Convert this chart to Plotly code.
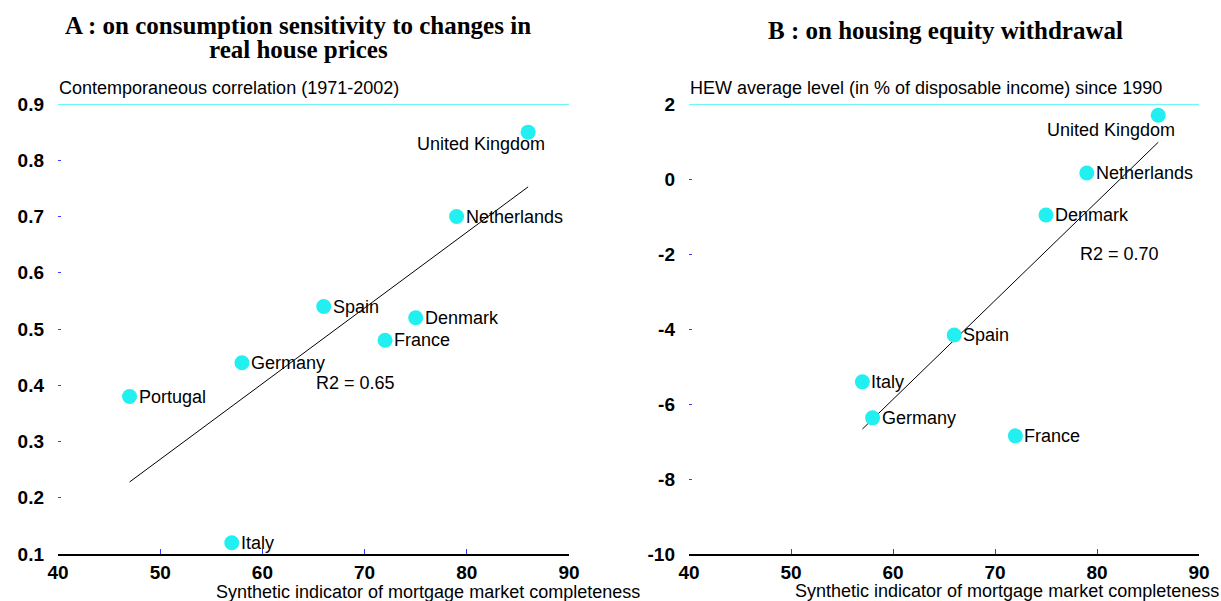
import numpy as np
import plotly.graph_objects as go

# Panel A data
countries_a = ["United Kingdom", "Netherlands", "Spain", "Denmark", "France", "Germany", "Portugal", "Italy"]
x_a = [86, 79, 66, 75, 72, 58, 47, 57]
y_a = [0.85, 0.70, 0.54, 0.52, 0.48, 0.44, 0.38, 0.12]

# Panel B data
countries_b = ["United Kingdom", "Netherlands", "Denmark", "Spain", "Italy", "Germany", "France"]
x_b = [86, 79, 75, 66, 57, 58, 72]
y_b = [1.7, 0.16, -0.96, -4.16, -5.41, -6.37, -6.85]

title_a_lines = ["A : on consumption sensitivity to changes in", "real house prices"]
title_b = "B : on housing equity withdrawal"
sub_a = "Contemporaneous correlation (1971-2002)"
sub_b = "HEW average level (in % of disposable income) since 1990"
xlabel = "Synthetic indicator of mortgage market completeness"
r2_a = "R2 = 0.65"
r2_b = "R2 = 0.70"

x_ticks = [40, 50, 60, 70, 80, 90]
y_ticks_a = [0.1, 0.2, 0.3, 0.4, 0.5, 0.6, 0.7, 0.8, 0.9]
y_ticks_b = [-10, -8, -6, -4, -2, 0, 2]

CYAN = "#3ff4f4"
MARK = "#22f0f0"
TICKBLUE = "#3a3aff"
FONT = "Liberation Sans"

fig = go.Figure()

def fit(xs, ys):
    p = np.polyfit(xs, ys, 1)
    xr = np.array([min(xs), max(xs)])
    return xr, np.polyval(p, xr)

for xs, ys, xa, ya in [(x_a, y_a, "x", "y"), (x_b, y_b, "x2", "y2")]:
    lx, ly = fit(xs, ys)
    fig.add_trace(go.Scatter(x=lx, y=ly, mode="lines", line=dict(color="black", width=1),
                             xaxis=xa, yaxis=ya, showlegend=False, hoverinfo="skip"))
    fig.add_trace(go.Scatter(x=xs, y=ys, mode="markers",
                             marker=dict(color=MARK, size=15, line=dict(width=0)),
                             xaxis=xa, yaxis=ya, showlegend=False))

annotations = []
lab_font = dict(family=FONT, size=18, color="black")
for names, xs, ys, xr, yr, uk_shift in [(countries_a, x_a, y_a, "x", "y", -12),
                                        (countries_b, x_b, y_b, "x2", "y2", -15)]:
    for n, xv, yv in zip(names, xs, ys):
        if n == "United Kingdom":
            annotations.append(dict(x=xv, y=yv, xref=xr, yref=yr, text=n, showarrow=False,
                                    xanchor="center", yanchor="middle", xshift=-47, yshift=uk_shift,
                                    font=lab_font))
        else:
            annotations.append(dict(x=xv, y=yv, xref=xr, yref=yr, text=n, showarrow=False,
                                    xanchor="left", yanchor="middle", xshift=7, yshift=0,
                                    font=lab_font))

annotations.append(dict(x=65.0, y=0.404, xref="x", yref="y", text=r2_a, showarrow=False,
                        xanchor="left", yanchor="middle", font=lab_font))
annotations.append(dict(x=78.1, y=-2.0, xref="x2", yref="y2", text=r2_b, showarrow=False,
                        xanchor="left", yanchor="middle", font=lab_font))

W, H = 1221, 601
def px(xp):
    return xp / W
def py(yp):
    return 1 - yp / H

title_font = dict(family="Liberation Serif", size=25, color="black")
annotations += [
    dict(x=px(298), y=py(26), xref="paper", yref="paper", text="<b>" + title_a_lines[0] + "</b>", showarrow=False,
         xanchor="center", yanchor="middle", font=title_font),
    dict(x=px(298), y=py(49), xref="paper", yref="paper", text="<b>" + title_a_lines[1] + "</b>", showarrow=False,
         xanchor="center", yanchor="middle", font=title_font),
    dict(x=px(945), y=py(31), xref="paper", yref="paper", text="<b>" + title_b + "</b>", showarrow=False,
         xanchor="center", yanchor="middle", font=title_font),
    dict(x=px(57), y=py(88), xref="paper", yref="paper", text=sub_a, showarrow=False,
         xanchor="left", yanchor="middle", font=lab_font),
    dict(x=px(688), y=py(88), xref="paper", yref="paper", text=sub_b, showarrow=False,
         xanchor="left", yanchor="middle", font=lab_font),
    dict(x=px(642), y=py(592), xref="paper", yref="paper", text=xlabel, showarrow=False,
         xanchor="right", yanchor="middle", font=lab_font),
    dict(x=px(1221), y=py(591), xref="paper", yref="paper", text=xlabel, showarrow=False,
         xanchor="right", yanchor="middle", font=lab_font),
]

shapes = [
    dict(type="line", xref="x", yref="y", x0=40, x1=90, y0=0.9, y1=0.9, line=dict(color=CYAN, width=1.5)),
    dict(type="line", xref="x2", yref="y2", x0=40, x1=90, y0=2, y1=2, line=dict(color=CYAN, width=1.5)),
]

tick_font = dict(family=FONT, size=19, color="black")
xcommon = dict(range=[40, 90], tickvals=x_ticks, ticktext=[f"<b>{v}</b>" for v in x_ticks],
               ticks="inside", ticklen=5, tickcolor=TICKBLUE, tickwidth=1,
               showline=True, linecolor="black", linewidth=1.5, showgrid=False, zeroline=False,
               tickfont=tick_font, automargin=False)
ycommon = dict(ticks="inside", ticklen=3, tickcolor=TICKBLUE, tickwidth=1, showline=False,
               showgrid=False, zeroline=False, tickfont=tick_font, ticklabelstandoff=13, automargin=False)

y0d, y1d = py(554), py(104)
fig.update_layout(
    width=W, height=H,
    margin=dict(l=0, r=0, t=0, b=0),
    paper_bgcolor="white", plot_bgcolor="white",
    xaxis=dict(domain=[px(58), px(569)], anchor="y", **xcommon),
    yaxis=dict(domain=[y0d, y1d], anchor="x", range=[0.1, 0.9], tickvals=y_ticks_a,
               ticktext=[f"<b>{v:.1f}</b>" for v in y_ticks_a], **ycommon),
    xaxis2=dict(domain=[px(689), px(1199)], anchor="y2", **xcommon),
    yaxis2=dict(domain=[y0d, y1d], anchor="x2", range=[-10, 2], tickvals=y_ticks_b,
                ticktext=[f"<b>{v}</b>" for v in y_ticks_b], **ycommon),
    annotations=annotations,
    shapes=shapes,
    font=dict(family=FONT),
)

fig.write_html("out.html")
